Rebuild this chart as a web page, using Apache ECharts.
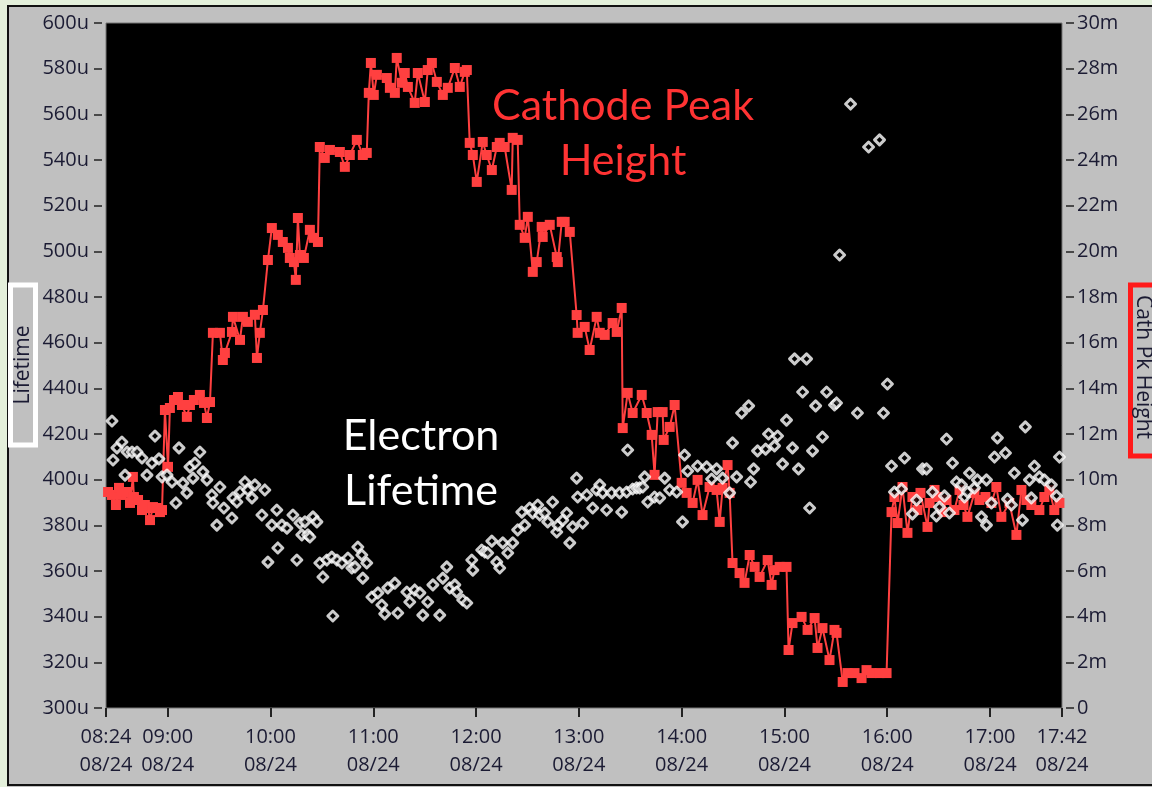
<!DOCTYPE html>
<html>
<head>
<meta charset="utf-8">
<script src="https://cdn.jsdelivr.net/npm/echarts@6/dist/echarts.min.js"></script>
<style>html,body{margin:0;padding:0;background:#e4f0db;}#c{width:1152px;height:787px;}</style>
</head>
<body>
<div id="c"></div>
<script>
// ---- Data (time = minutes since midnight on 08/24) ----
const cathTime = [
505.2,507.5,509.8,511.6,513.3,515.7,518.0,519.7,520.3,522.7,525.0,526.7,528.5,529.7,531.4,533.7,535.5,536.7,
538.4,540.2,541.3,543.7,546.0,548.3,551.2,553.0,555.3,558.8,561.2,562.9,564.7,
566.4,570.5,572.2,573.4,577.5,578.1,582.2,583.9,586.8,590.9,592.1,593.8,595.6,
598.5,600.8,604.3,607.2,610.2,611.3,613.7,614.8,616.0,617.2,619.5,623.0,625.3,627.7,
628.8,631.7,634.7,640.5,643.4,646.3,650.4,653.9,656.2,
657.4,658.6,660.3,662.1,667.9,669.7,672.6,673.7,676.7,678.4,680.2,684.2,686.0,690.1,691.8,694.2,697.1,700.6,703.5,707.6,710.5,713.4,714.6,
716.3,718.1,720.4,723.9,726.2,729.2,732.1,733.8,736.7,740.8,741.4,744.3,
745.5,748.4,750.2,753.1,755.4,758.3,758.9,763.0,767.1,767.7,770.0,771.7,774.7,
778.7,779.3,783.4,786.3,790.4,792.2,795.1,799.7,802.1,805.0,
805.6,808.5,811.4,816.7,819.6,822.5,824.2,826.0,828.9,829.5,833.0,835.9,
840.0,842.9,846.4,849.3,852.2,856.3,860.4,862.2,863.9,866.8,868.0,
869.7,873.8,876.7,879.7,882.6,885.5,890.2,892.5,894.2,897.2,901.2,
902.4,904.7,910.0,913.5,917.6,919.3,922.2,926.3,929.2,930.4,
934.0,936.8,940.9,945.0,947.9,950.8,955.5,959.6,
962.5,964.2,966.0,968.9,971.8,974.7,977.6,979.4,983.5,984.7,987.6,989.3,992.2,994.6,999.2,1002.2,1004.5,1006.8,1010.9,1013.8,1017.3,1020.8,1023.7,1026.6,1031.3,1035.4,1038.3,1041.2,1044.1,1048.8,1051.7,1054.6,1057.5,1060.5
];
const cathHeight = [
9.46,9.33,8.89,9.64,9.33,9.46,8.98,10.12,9.24,9.11,8.67,8.89,8.76,8.23,8.80,8.76,8.58,8.67,
13.05,10.56,13.14,13.49,13.62,13.27,12.75,13.27,13.49,13.71,13.36,12.70,13.40,
16.43,16.43,15.24,15.55,16.47,17.13,16.12,17.13,16.91,17.22,15.33,16.43,17.43,
19.62,21.02,20.72,20.41,20.15,19.71,19.53,18.75,21.46,19.84,19.71,20.94,20.59,20.41,
24.57,24.09,24.44,24.35,23.70,24.22,24.88,24.22,24.31,
26.94,28.25,26.85,27.73,27.59,27.16,26.94,28.47,27.38,27.81,27.20,26.50,27.81,26.54,27.94,28.25,27.42,26.85,27.16,28.03,27.20,27.86,27.94,
24.75,24.22,23.04,24.79,24.22,23.56,24.57,24.75,24.57,22.69,24.97,24.88,
21.16,20.59,21.51,19.10,19.53,21.07,20.63,21.16,19.75,19.53,21.29,21.29,20.85,
17.21,16.43,16.69,15.68,17.13,16.43,16.34,16.86,16.47,17.52,
12.26,13.80,12.92,13.71,12.92,11.96,10.21,12.96,12.96,11.74,12.31,13.27,
9.86,9.42,8.98,9.99,8.45,9.68,9.55,8.15,9.64,10.64,9.42,
6.35,5.91,5.48,6.70,6.18,5.74,6.48,5.39,6.04,6.18,6.18,
2.54,3.72,3.99,3.42,3.94,2.63,3.50,2.10,3.42,3.29,
1.14,1.53,1.53,1.31,1.66,1.53,1.53,1.53,
8.58,9.24,8.10,9.68,7.67,9.24,8.67,9.42,7.93,8.98,9.55,9.24,8.58,9.11,8.67,9.55,8.89,8.37,9.42,9.11,9.24,8.98,9.68,8.37,8.98,7.58,9.55,9.11,8.89,8.67,9.24,9.55,8.67,8.98
];
const lifeTime = [
507.5,508.1,510.4,513.3,515.1,516.3,519.2,522.1,525.0,527.9,530.8,532.6,534.9,536.7,539.6,542.5,544.8,546.6,548.9,551.2,
553.0,554.8,555.9,558.8,560.6,562.9,565.8,566.4,568.7,570.5,572.8,577.5,578.1,580.4,582.2,585.1,586.8,589.2,590.9,595.0,
596.7,598.5,600.8,603.7,604.3,606.7,609.6,613.1,615.4,617.2,618.3,620.1,621.8,623.0,624.8,627.1,628.8,630.6,632.9,635.8,
636.4,638.8,641.7,645.2,647.5,649.3,651.0,653.3,653.9,656.2,659.2,662.7,665.0,666.7,668.5,672.6,674.3,679.6,681.3,684.2,
687.2,688.9,691.8,694.8,698.8,700.6,702.9,704.6,707.6,708.7,712.2,714.6,717.5,718.1,723.3,725.1,726.8,729.2,732.1,733.8,
735.6,738.5,741.4,744.3,746.7,748.4,751.3,753.1,756.0,757.2,760.1,761.8,764.7,767.1,767.7,770.6,772.9,774.7,776.4,778.7,
779.3,782.2,784.6,788.1,790.4,792.2,793.9,796.2,799.1,803.8,805.0,807.9,808.5,811.4,813.7,815.5,817.3,818.4,820.2,824.2,
827.2,830.1,833.0,837.1,840.5,841.7,843.5,849.3,854.6,857.5,860.4,863.9,868.0,869.7,872.1,875.0,879.1,880.2,882.0,884.3,
889.0,890.7,894.2,896.0,898.9,901.2,904.7,905.9,908.2,910.6,912.9,914.7,916.4,918.2,922.2,924.6,929.2,930.4,932.2,938.6,
942.6,949.1,955.5,957.8,960.1,962.5,964.2,968.3,970.1,974.7,977.1,980.6,982.9,986.4,988.7,990.5,993.4,994.6,996.3,998.1,
1000.4,1003.3,1005.1,1006.8,1008.0,1010.9,1012.6,1015.0,1017.9,1017.9,1020.8,1022.6,1024.3,1029.0,1030.2,1032.5,1034.2,1038.9,1040.6,1043.0,
1044.1,1045.9,1048.8,1051.7,1055.8,1058.8,1059.3,1060.5
];
const lifeValue = [
425.7,408.6,413.9,416.5,402.0,412.1,412.1,412.1,409.5,402.0,407.3,419.1,409.1,401.2,402.0,399.0,389.8,413.9,398.5,394.2,
405.6,400.7,407.3,412.1,403.4,399.9,393.3,389.8,380.1,396.8,387.6,383.2,392.0,390.2,394.6,399.0,395.5,392.0,397.7,384.5,
395.5,363.9,380.1,386.7,370.1,380.1,378.8,384.5,364.8,381.0,375.8,381.5,375.8,374.9,383.7,381.5,363.5,357.4,364.8,366.1,
340.3,364.8,363.5,365.7,361.3,361.8,370.5,367.0,356.9,363.5,348.6,350.4,345.1,341.2,352.6,354.7,341.6,350.8,346.4,351.7,
350.4,340.7,346.4,353.9,340.7,356.9,361.8,352.6,353.9,350.8,347.3,346.0,364.8,360.4,369.2,368.3,367.9,373.1,363.9,361.3,
372.3,367.9,372.3,378.0,385.8,380.1,387.6,385.4,388.9,384.5,385.4,381.5,390.2,377.1,380.1,382.3,385.4,372.3,379.3,400.7,
392.4,381.0,393.3,387.6,395.5,397.7,394.2,386.7,394.2,394.2,385.8,394.6,413.0,395.9,396.4,396.4,396.8,401.2,390.2,392.4,
392.0,400.7,395.5,394.6,381.5,410.8,403.8,406.0,405.6,400.3,404.7,400.7,394.2,416.1,401.2,429.2,432.3,399.0,404.7,412.6,
413.4,420.0,414.8,419.1,406.9,426.1,413.9,452.9,404.7,438.4,452.9,387.6,412.6,432.3,418.7,438.4,432.7,433.6,498.4,564.5,
429.2,545.7,548.8,429.2,441.9,406.0,394.6,395.9,409.5,385.0,391.1,404.7,404.7,394.6,384.1,388.0,392.9,417.8,385.4,407.3,
399.0,397.7,392.4,394.6,402.9,396.4,399.9,383.7,399.9,380.1,389.8,409.9,418.3,411.7,391.5,388.9,402.9,382.3,423.1,399.9,
392.0,406.0,401.2,399.9,397.7,392.9,380.1,409.9
];
const xTickValues = [504,540,600,660,720,780,840,900,960,1020,1062];
const dateLabel = '08/24';

const cathData = cathTime.map((t,i)=>[t,cathHeight[i]]);
const lifeData = lifeTime.map((t,i)=>[t,lifeValue[i]]);

function fmtTime(v){
  const h = Math.floor(v/60), m = Math.round(v - h*60);
  return (h<10?'0':'')+h+':'+(m<10?'0':'')+m+'\n'+dateLabel;
}

const txt = '#1b1b33';
const lblFont = {fontFamily:'Open Sans', fontSize:20, color:txt};

const chart = echarts.init(document.getElementById('c'), null, {renderer:'canvas'});
chart.setOption({
  animation:false,
  backgroundColor:'#c0c0c0',
  grid:{left:106, right:90, top:23, bottom:79, show:true, backgroundColor:'#000', borderColor:'#777', borderWidth:1},
  xAxis:{
    type:'value', min:504, max:1062, offset:5,
    axisLine:{show:false}, splitLine:{show:false},
    axisTick:{show:true, length:9, customValues:xTickValues, lineStyle:{color:'#222', width:2}},
    axisLabel:Object.assign({customValues:xTickValues, margin:10, lineHeight:28, formatter:fmtTime}, lblFont)
  },
  yAxis:[
    {type:'value', position:'left', min:300, max:600, interval:20, offset:4,
     axisLine:{show:false}, splitLine:{show:false},
     axisTick:{show:true, length:8, lineStyle:{color:'#222', width:1.5}},
     axisLabel:Object.assign({margin:13, formatter:v=>v+'u'}, lblFont)},
    {type:'value', position:'right', min:0, max:30, interval:2, offset:4,
     axisLine:{show:false}, splitLine:{show:false},
     axisTick:{show:true, length:8, lineStyle:{color:'#222', width:1.5}},
     axisLabel:Object.assign({margin:11, formatter:v=>v===0?'0':v+'m'}, lblFont)}
  ],
  series:[
    {name:'Cath Pk Height', type:'line', yAxisIndex:1, data:cathData,
     symbol:'rect', symbolSize:10, showAllSymbol:true,
     lineStyle:{color:'#ff4040', width:2}, itemStyle:{color:'#ff4040'}, z:2},
    {name:'Lifetime', type:'scatter', yAxisIndex:0, data:lifeData,
     symbol:'diamond', symbolSize:10,
     itemStyle:{color:'#000', borderColor:'#ffffff', borderWidth:3, borderJoin:'round'}, z:3}
  ],
  graphic:[
    {type:'rect', shape:{x:0,y:0,width:1152,height:5}, style:{fill:'#e4f0db'}, silent:true},
    {type:'rect', shape:{x:0,y:0,width:7,height:787}, style:{fill:'#e4f0db'}, silent:true},
    {type:'rect', shape:{x:8,y:6,width:1160,height:779}, style:{fill:null, stroke:'#111', lineWidth:2}, silent:true},
    {type:'rect', shape:{x:10.5,y:285,width:25,height:160}, style:{fill:'#c0c0c0', stroke:'#fff', lineWidth:5}, silent:true},
    {type:'text', x:23, y:365, rotation:Math.PI/2,
     style:{text:'Lifetime', fontFamily:'Open Sans', fontSize:21, fill:txt, align:'center', verticalAlign:'middle'}},
    {type:'rect', shape:{x:1130.5,y:285,width:40,height:171}, style:{fill:'#c0c0c0', stroke:'#ff1a1a', lineWidth:5}, silent:true},
    {type:'text', x:1143, y:367, rotation:-Math.PI/2,
     style:{text:'Cath Pk Height', fontFamily:'Open Sans', fontSize:21, fill:txt, align:'center', verticalAlign:'middle'}},
    {type:'text', x:623, y:106, z:10,
     style:{text:'Cathode Peak', fontFamily:'Lato', fontSize:43, fill:'#ff3333', align:'center', verticalAlign:'middle'}},
    {type:'text', x:623, y:161, z:10,
     style:{text:'Height', fontFamily:'Lato', fontSize:43, fill:'#ff3333', align:'center', verticalAlign:'middle'}},
    {type:'text', x:421, y:436, z:10,
     style:{text:'Electron', fontFamily:'Lato', fontSize:43, fill:'#ffffff', align:'center', verticalAlign:'middle'}},
    {type:'text', x:421, y:491, z:10,
     style:{text:'Lifetime', fontFamily:'Lato', fontSize:43, fill:'#ffffff', align:'center', verticalAlign:'middle'}}
  ]
});
</script>
</body>
</html>
